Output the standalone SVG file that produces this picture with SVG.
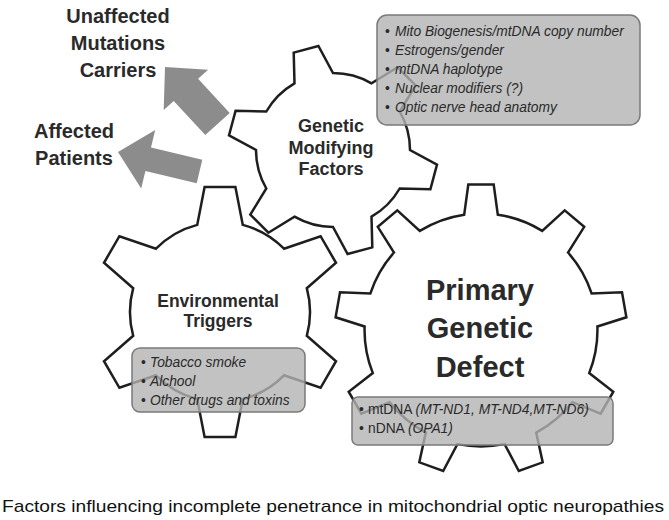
<svg xmlns="http://www.w3.org/2000/svg" width="669" height="520" viewBox="0 0 669 520">
<style>
.gear{fill:#fff;stroke:#1e1e1e;stroke-width:2.5;stroke-linejoin:miter}
.box{fill:#b3b3b3;fill-opacity:0.8;stroke:#7a7a7a;stroke-width:1.5}
.arrow{fill:#8c8c8c}
.lbl{font-family:"Liberation Sans",Arial,sans-serif;font-weight:bold;fill:#2a2a2a;text-anchor:middle}
.item{font-family:"Liberation Sans",Arial,sans-serif;font-size:13.8px;font-style:italic;fill:#2a2a2a}
.up{font-style:normal}
.cap{font-family:"Liberation Sans",Arial,sans-serif;font-size:17px;fill:#111}
</style>
<rect width="669" height="520" fill="#fff"/>
<g id="connectors">
<polygon class="arrow" points="165,67 208.1,69.7 198.1,78.8 229.7,112.9 205.3,135.1 173.7,101 163.7,110.1"/>
<polygon class="arrow" points="118,152 155.2,130 151,147.5 202.3,159.8 196.7,183.2 145.4,170.9 141.2,188.4"/>
</g>
<g id="outcome-unaffected">
<text class="lbl" font-size="20" x="118" y="23">Unaffected</text>
<text class="lbl" font-size="20" x="118" y="50">Mutations</text>
<text class="lbl" font-size="20" x="118" y="77">Carriers</text>
</g>
<g id="outcome-affected">
<text class="lbl" font-size="20" x="74" y="138">Affected</text>
<text class="lbl" font-size="20" x="74" y="165">Patients</text>
</g>
<g id="gear-genetic">
<path class="gear" d="M294.5,83.3 L293.7,52.6 L318.4,46 L333,73 A77,77 0 0,1 371.5,83.3 L397.6,67.3 L415.7,85.4 L399.7,111.5 A77,77 0 0,1 410,150 L437,164.6 L430.4,189.3 L399.7,188.5 A77,77 0 0,1 371.5,216.7 L372.3,247.4 L347.6,254 L333,227 A77,77 0 0,1 294.5,216.7 L268.4,232.7 L250.3,214.6 L266.3,188.5 A77,77 0 0,1 256,150 L229,135.4 L235.6,110.7 L266.3,111.5 A77,77 0 0,1 294.5,83.3 Z"/>
<text class="lbl" font-size="18" x="331" y="132">Genetic</text>
<text class="lbl" font-size="18" x="331" y="154">Modifying</text>
<text class="lbl" font-size="18" x="331" y="175">Factors</text>
</g>
<g id="gear-environmental">
<path class="gear" d="M197.2,224.9 L204.6,186.9 L235.4,186.9 L242.8,224.9 A90,90 0 0,1 284,248.7 L320.6,236.2 L336,262.8 L306.8,288.2 A90,90 0 0,1 306.8,335.8 L336,361.2 L320.6,387.8 L284,375.3 A90,90 0 0,1 242.8,399.1 L235.4,437.1 L204.6,437.1 L197.2,399.1 A90,90 0 0,1 156,375.3 L119.4,387.8 L104,361.2 L133.2,335.8 A90,90 0 0,1 133.2,288.2 L104,262.8 L119.4,236.2 L156,248.7 A90,90 0 0,1 197.2,224.9 Z"/>
<text class="lbl" font-size="17.5" x="218" y="307">Environmental</text>
<text class="lbl" font-size="17.5" x="218" y="327">Triggers</text>
</g>
<g id="gear-primary">
<path class="gear" d="M464.2,214.7 L468.3,184.6 L493.7,184.6 L497.8,214.7 A116.5,116.5 0 0,1 542.2,230.9 L564.7,210.4 L584.2,226.8 L568,252.5 A116.5,116.5 0 0,1 591.6,293.4 L622,292.2 L626.4,317.3 L597.4,326.5 A116.5,116.5 0 0,1 589.2,373.1 L613.3,391.7 L600.6,413.7 L572.4,402.2 A116.5,116.5 0 0,1 536.2,432.6 L542.7,462.3 L518.8,471 L504.6,444.1 A116.5,116.5 0 0,1 457.4,444.1 L443.2,471 L419.3,462.3 L425.8,432.6 A116.5,116.5 0 0,1 389.6,402.2 L361.4,413.7 L348.7,391.7 L372.8,373.1 A116.5,116.5 0 0,1 364.6,326.5 L335.6,317.3 L340,292.2 L370.4,293.4 A116.5,116.5 0 0,1 394,252.5 L377.8,226.8 L397.3,210.4 L419.8,230.9 A116.5,116.5 0 0,1 464.2,214.7 Z"/>
<text class="lbl" font-size="29" x="480" y="300" fill="#111">Primary</text>
<text class="lbl" font-size="29" x="480" y="338" fill="#111">Genetic</text>
<text class="lbl" font-size="29" x="480" y="377" fill="#111">Defect</text>
</g>
<g id="box-genetic">
<rect class="box" x="377" y="15" width="263" height="110" rx="10"/>
<text class="item" y="36"><tspan class="up" x="385">•</tspan><tspan x="395">Mito Biogenesis/mtDNA copy number</tspan></text>
<text class="item" y="55"><tspan class="up" x="385">•</tspan><tspan x="395">Estrogens/gender</tspan></text>
<text class="item" y="74"><tspan class="up" x="385">•</tspan><tspan x="395">mtDNA haplotype</tspan></text>
<text class="item" y="93"><tspan class="up" x="385">•</tspan><tspan x="395">Nuclear modifiers (?)</tspan></text>
<text class="item" y="112"><tspan class="up" x="385">•</tspan><tspan x="395">Optic nerve head anatomy</tspan></text>
</g>
<g id="box-environmental">
<rect class="box" x="132" y="348" width="173" height="64" rx="8"/>
<text class="item" y="367"><tspan class="up" x="141">•</tspan><tspan x="150">Tobacco smoke</tspan></text>
<text class="item" y="386"><tspan class="up" x="141">•</tspan><tspan x="150">Alchool</tspan></text>
<text class="item" y="405"><tspan class="up" x="141">•</tspan><tspan x="150">Other drugs and toxins</tspan></text>
</g>
<g id="box-primary">
<rect class="box" x="352" y="397" width="261" height="48" rx="6"/>
<text class="item" y="414"><tspan class="up" x="359">•</tspan><tspan class="up" x="368">mtDNA </tspan><tspan>(MT-ND1, MT-ND4,MT-ND6)</tspan></text>
<text class="item" y="433"><tspan class="up" x="359">•</tspan><tspan class="up" x="368">nDNA </tspan><tspan>(OPA1)</tspan></text>
</g>
<text class="cap" x="2" y="512" textLength="662" lengthAdjust="spacingAndGlyphs">Factors influencing incomplete penetrance in mitochondrial optic neuropathies</text>
</svg>
